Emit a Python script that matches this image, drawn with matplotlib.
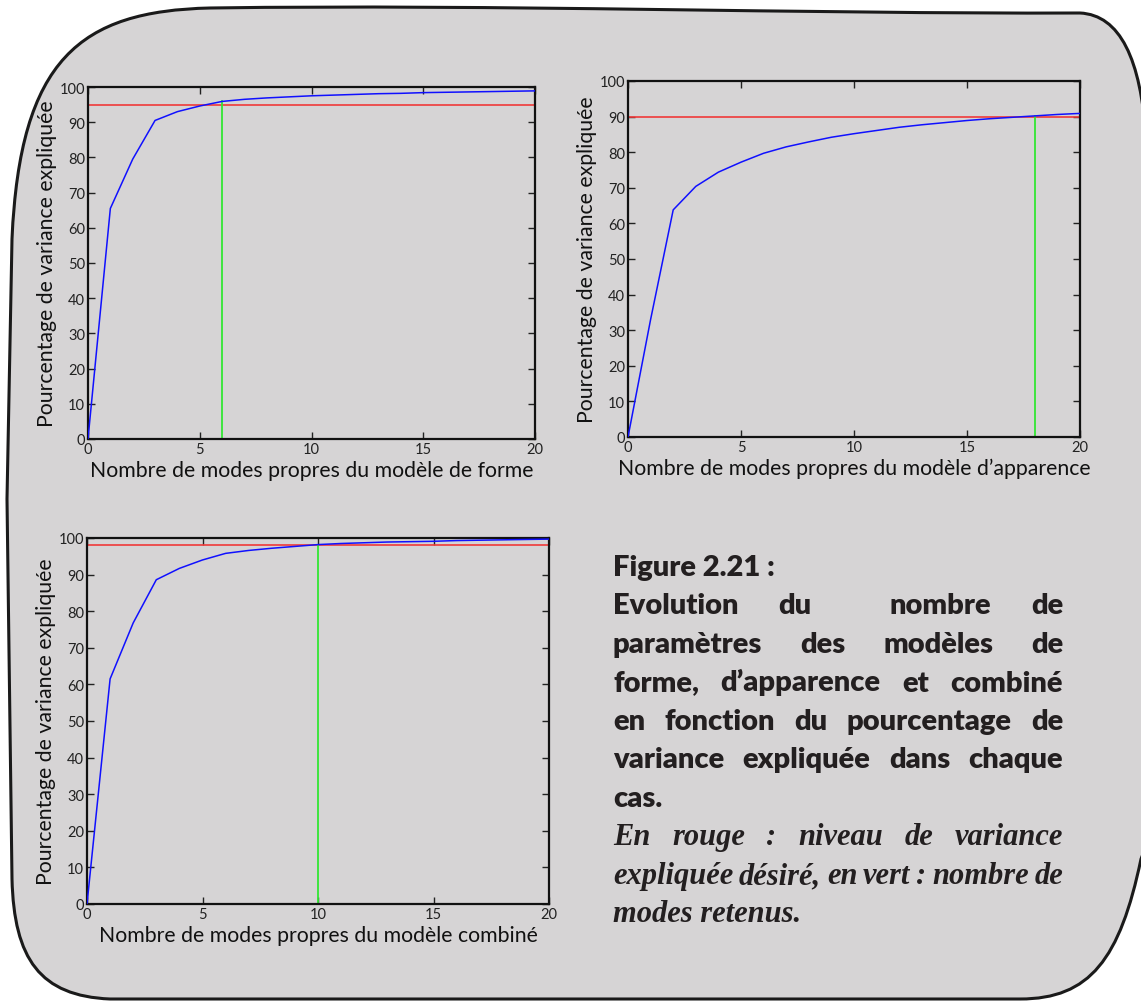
import numpy as np
import matplotlib
matplotlib.use('Agg')
import matplotlib.pyplot as plt
from matplotlib.path import Path
from matplotlib.patches import PathPatch

# Data (percentage of explained variance per number of modes)
modes = list(range(21))
forme = [0, 65.5, 79.5, 90.5, 93.0, 94.6, 95.9, 96.5, 96.9, 97.2, 97.5,
         97.7, 97.9, 98.1, 98.2, 98.4, 98.5, 98.6, 98.7, 98.8, 98.9]
apparence = [0, 33.0, 63.8, 70.4, 74.4, 77.2, 79.7, 81.5, 82.9, 84.2, 85.2,
             86.1, 87.0, 87.7, 88.3, 88.9, 89.4, 89.8, 90.2, 90.6, 90.9]
combine = [0, 61.5, 76.8, 88.6, 91.7, 94.0, 95.8, 96.6, 97.2, 97.7, 98.2,
           98.5, 98.7, 98.9, 99.0, 99.1, 99.3, 99.4, 99.5, 99.6, 99.7]

seuils = [95, 90, 98]          # red line : desired level
modes_retenus = [6, 18, 10]    # green line : retained modes
xlabels = ['Nombre de modes propres du modèle de forme',
           'Nombre de modes propres du modèle d\u2019apparence',
           'Nombre de modes propres du modèle combiné']
ylabel = 'Pourcentage de variance expliquée'
xticks = [0, 5, 10, 15, 20]
yticks = list(range(0, 101, 10))

W, H = 1141, 1003
GRIS = '#d6d4d5'
SANS = ['Lato', 'DejaVu Sans']

fig = plt.figure(figsize=(W / 100, H / 100), dpi=100)
fig.patch.set_facecolor('white')


def px(x, y):
    # pixel coords (y down) -> figure fraction
    return (x / W, 1 - y / H)


# Rounded frame behind everything
verts = [(210, 9), (500, 5), (800, 15), (1080, 14),
         (1120, 16), (1141, 60), (1146, 140),
         (1165, 300), (1165, 800), (1141, 860),
         (1120, 960), (1090, 1000), (1020, 1000),
         (110, 1000),
         (40, 997), (14, 960), (12, 880),
         (7, 500), (12, 240),
         (20, 60), (80, 12), (210, 9),
         (210, 9)]
codes = [Path.MOVETO, Path.CURVE4, Path.CURVE4, Path.CURVE4,
         Path.CURVE4, Path.CURVE4, Path.CURVE4,
         Path.LINETO, Path.LINETO, Path.LINETO,
         Path.CURVE4, Path.CURVE4, Path.CURVE4,
         Path.LINETO,
         Path.CURVE4, Path.CURVE4, Path.CURVE4,
         Path.LINETO, Path.LINETO,
         Path.CURVE4, Path.CURVE4, Path.CURVE4,
         Path.CLOSEPOLY]
cadre = Path([px(x, y) for x, y in verts], codes)
fig.patches.append(PathPatch(cadre, transform=fig.transFigure, facecolor=GRIS,
                             edgecolor='#1a1a1a', lw=2.2, zorder=-10))

# Axes boxes in pixels: left, top, right, bottom
boites = [(88, 88, 535, 440), (628, 82, 1080, 438), (87, 539, 549, 905)]
series = [forme, apparence, combine]

for i in range(3):
    l, t, r, b = boites[i]
    ax = fig.add_axes([l / W, 1 - b / H, (r - l) / W, (b - t) / H])
    ax.set_facecolor('none')
    y = series[i]
    ax.plot(modes, y, color='#1010ff', lw=1.1, zorder=3)
    ax.axhline(seuils[i], color='#f03a3a', lw=1.2, zorder=2)
    m = modes_retenus[i]
    ax.plot([m, m], [0, y[m]], color='#33e633', lw=1.3, zorder=2)
    ax.set_xlim(0, 20)
    ax.set_ylim(0, 100)
    ax.set_xticks(xticks)
    ax.set_yticks(yticks)
    ax.tick_params(direction='in', length=5, width=1, top=True, right=True,
                   labelsize=10.5, pad=2, colors='#222222')
    for lab in ax.get_xticklabels() + ax.get_yticklabels():
        lab.set_family(SANS)
    for s in ax.spines.values():
        s.set_linewidth(1.6)
        s.set_color('#111111')
    ax.set_xlabel(xlabels[i], fontsize=15.3, family=SANS, labelpad=3, color='#111111')
    ax.set_ylabel(ylabel, fontsize=15.3, family=SANS, labelpad=2, color='#111111')

# Caption on the right, justified like the original
gras = [['Evolution', 'du', '', 'nombre', 'de'],
        ['paramètres', 'des', 'modèles', 'de'],
        ['forme,', 'd\u2019apparence', 'et', 'combiné'],
        ['en', 'fonction', 'du', 'pourcentage', 'de'],
        ['variance', 'expliquée', 'dans', 'chaque']]
italique = [['En', 'rouge', ':', 'niveau', 'de', 'variance'],
            ['expliquée', 'désiré,', 'en', 'vert', ':', 'nombre', 'de']]

x0, x1 = 613, 1063
y0, dy = 576, 38.5
renderer = fig.canvas.get_renderer()


def ligne_justifiee(mots, ybase, **kw):
    objs = [fig.text(0, 0, w, va='baseline', ha='left', **kw) for w in mots]
    larg = [o.get_window_extent(renderer).width if o.get_text() else 0 for o in objs]
    gap = (x1 - x0 - sum(larg)) / (len(mots) - 1)
    x = x0
    for o, w in zip(objs, larg):
        o.set_position(px(x, ybase))
        x += w + gap


style_gras = dict(fontsize=21, fontweight='heavy', family=SANS, color='#231f20')
style_ital = dict(fontsize=22, fontweight='bold', fontstyle='italic',
                  family=['Liberation Serif', 'DejaVu Serif'], color='#231f20')

fig.text(*px(x0, y0), 'Figure 2.21 :', va='baseline', **style_gras)
for k, mots in enumerate(gras):
    ligne_justifiee(mots, y0 + (k + 1) * dy, **style_gras)
fig.text(*px(x0, y0 + 6 * dy), 'cas.', va='baseline', **style_gras)
for k, mots in enumerate(italique):
    ligne_justifiee(mots, y0 + (7 + k) * dy, **style_ital)
fig.text(*px(x0, y0 + 9 * dy), 'modes retenus.', va='baseline', **style_ital)

fig.savefig('out.png', dpi=100, facecolor='white')
